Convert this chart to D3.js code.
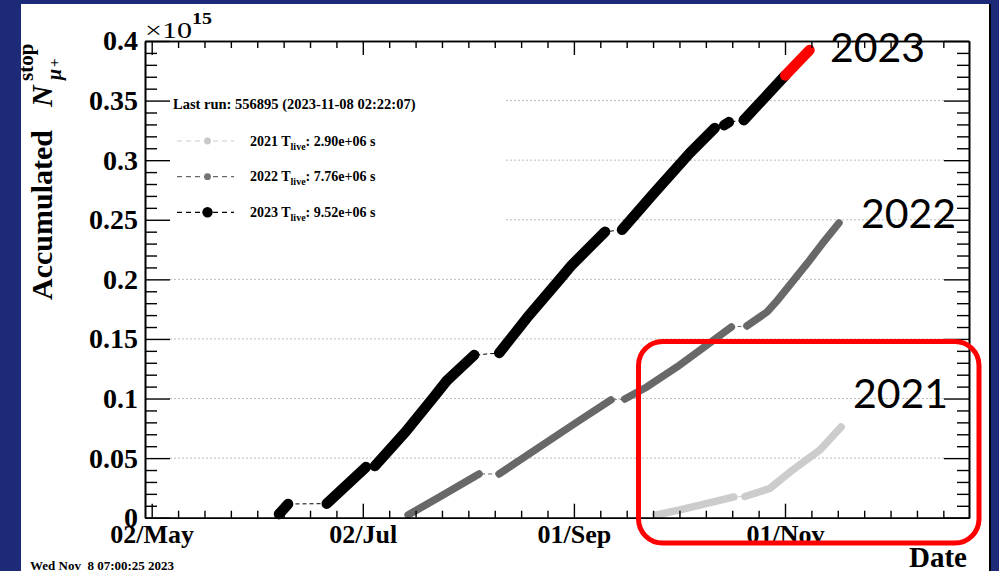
<!DOCTYPE html>
<html><head><meta charset="utf-8">
<script src="https://cdn.jsdelivr.net/npm/d3@7"></script>
<style>
html,body{margin:0;padding:0;background:#1d2a78;}
svg{display:block;}
text{white-space:pre;}
</style></head><body>
<svg id="chart" width="999" height="571"></svg>
<script>
// ---------- data ----------
const xDomain = ["2023-04-30 01:32", "2023-12-24 04:00"];
const xTickDates = ["2023-05-02 00:00", "2023-07-02 00:00", "2023-09-01 00:00", "2023-11-01 00:00"];
const xTickLabels = ["02/May", "02/Jul", "01/Sep", "01/Nov"];
const xMinorPerMajor = 8;
const yTickValues = [0, 0.05, 0.1, 0.15, 0.2, 0.25, 0.3, 0.35, 0.4];
const yTickLabels = ["0", "0.05", "0.1", "0.15", "0.2", "0.25", "0.3", "0.35", "0.4"];
const yMinorStep = 0.01;
const seriesYears = ["2021", "2022", "2023"];
const liveTimes = ["2.90e+06", "7.76e+06", "9.52e+06"];
const lastRunText = "Last run: 556895 (2023-11-08 02:22:07)";
const printDate = "Wed Nov  8 07:00:25 2023";

// runs of data taking: [date "MM-DD HH" on a common calendar, accumulated N (x1e15)]
const runs2021 = [
  [["09-24 17", 0.0023], ["10-01 14", 0.0065], ["10-08 07", 0.0111], ["10-17 05", 0.0174]],
  [["10-20 10", 0.0178], ["10-27 14", 0.0245], ["11-02 10", 0.0383], ["11-11 02", 0.0568], ["11-17 05", 0.0761]]
];
const runs2022 = [
  [["07-15 02", 0.0023], ["07-24 07", 0.0176], ["08-04 14", 0.0367]],
  [["08-10 10", 0.0367], ["09-01 22", 0.0803], ["09-11 17", 0.0988]],
  [["09-15 17", 0.0996], ["09-22 02", 0.1097], ["09-30 19", 0.1265], ["10-07 12", 0.1407], ["10-16 12", 0.1600]],
  [["10-21 00", 0.1609], ["10-26 19", 0.1726], ["10-29 22", 0.1827], ["11-07 07", 0.2129], ["11-11 17", 0.2297], ["11-16 14", 0.2473]]
];
const runs2023 = [
  [["06-07 19", 0.0030], ["06-10 10", 0.0115]],
  [["06-21 14", 0.0118], ["07-02 22", 0.0425]],
  [["07-05 12", 0.0434], ["07-14 12", 0.0725], ["07-22 07", 0.1005], ["07-26 07", 0.1150], ["08-03 05", 0.1365]],
  [["08-10 10", 0.1382], ["08-18 10", 0.1676], ["08-28 00", 0.2003], ["08-31 10", 0.2121], ["09-10 00", 0.2399]],
  [["09-14 22", 0.2416], ["09-23 22", 0.2716], ["10-04 12", 0.3060], ["10-11 17", 0.3270]],
  [["10-14 10", 0.3294], ["10-15 19", 0.3320]],
  [["10-20 02", 0.3336], ["11-01 02", 0.3711]]
];
const recent2023 = [["11-01 02", 0.3711], ["11-08 02", 0.3924]];

// ---------- layout ----------
const W = 999, H = 571;
const L = 145, R = 969, T = 41, B = 517.7;
const colors = {"2021": "#cccccc", "2022": "#686868", "2023": "#000000"};
const widths = {"2021": 7.5, "2022": 7.5, "2023": 10.5};
const serif = "Liberation Serif, Times New Roman, serif";

const parseFull = d3.utcParse("%Y-%m-%d %H:%M");
const parseRun = s => d3.utcParse("%Y-%m-%d %H")("2023-" + s);

const svg = d3.select("#chart");
svg.append("rect").attr("width", W).attr("height", H).attr("fill", "#1d2a78");
svg.append("rect").attr("x", 21).attr("y", 4).attr("width", 968).attr("height", H - 4).attr("fill", "#ffffff");
svg.append("rect").attr("x", 989).attr("y", 4).attr("width", 2).attr("height", H - 4).attr("fill", "#000");

const x = d3.scaleUtc().domain(xDomain.map(parseFull)).range([L, R]);
const y = d3.scaleLinear().domain([0, 0.4]).range([B, T]);

// grid
svg.append("g").selectAll("line").data(yTickValues.filter(v => v > 0 && v < 0.4)).join("line")
  .attr("x1", 170).attr("x2", 944).attr("y1", d => y(d)).attr("y2", d => y(d))
  .attr("stroke", "#bdbdbd").attr("stroke-width", 1).attr("stroke-dasharray", "2,2");

// legend background
svg.append("rect").attr("x", 160).attr("y", 86).attr("width", 345).attr("height", 146).attr("fill", "#fff");

// data
const line = d3.line().x(d => x(parseRun(d[0]))).y(d => y(d[1]));
const allRuns = {"2021": runs2021, "2022": runs2022, "2023": runs2023};
seriesYears.forEach(yr => {
  const runs = allRuns[yr];
  svg.append("path").datum(runs.flat()).attr("d", line).attr("fill", "none")
    .attr("stroke", colors[yr]).attr("stroke-width", 1).attr("stroke-dasharray", "4,3");
  svg.append("g").selectAll("path").data(runs).join("path").attr("d", line)
    .attr("fill", "none").attr("stroke", colors[yr]).attr("stroke-width", widths[yr])
    .attr("stroke-linecap", "round").attr("stroke-linejoin", "round");
});
svg.append("path").datum(recent2023).attr("d", line).attr("fill", "none")
  .attr("stroke", "#ff0000").attr("stroke-width", widths["2023"])
  .attr("stroke-linecap", "round").attr("stroke-linejoin", "round");

// ticks
const majorDates = xTickDates.map(parseFull);
const minorStepMs = (majorDates[1] - majorDates[0]) / xMinorPerMajor;
const minorDates = [];
for (let k = 0; ; k++) {
  const t = new Date(+majorDates[0] + k * minorStepMs);
  if (t > x.domain()[1]) break;
  if (k % xMinorPerMajor !== 0) minorDates.push(t);
}
const yMinor = d3.range(0, 0.4 + 1e-9, yMinorStep).filter(v => Math.abs(v / 0.05 - Math.round(v / 0.05)) > 1e-6);

function styleAxis(g) {
  g.select(".domain").attr("stroke", "#000").attr("stroke-width", 1.6);
  g.selectAll(".tick line").attr("stroke", "#000").attr("stroke-width", 1.4);
}
// bottom
svg.append("g").attr("transform", `translate(0,${B})`)
  .call(d3.axisBottom(x).tickValues(minorDates).tickSize(-7).tickSizeOuter(0).tickFormat(""))
  .call(styleAxis);
svg.append("g").attr("transform", `translate(0,${B})`)
  .call(d3.axisBottom(x).tickValues(majorDates).tickSize(-14).tickSizeOuter(0).tickPadding(7)
    .tickFormat((d, i) => xTickLabels[i]))
  .call(styleAxis)
  .call(g => g.selectAll("text").attr("font-family", serif).attr("font-weight", "bold")
    .attr("font-size", 26).attr("fill", "#000"));
// top
svg.append("g").attr("transform", `translate(0,${T})`)
  .call(d3.axisTop(x).tickValues(minorDates).tickSize(-7).tickSizeOuter(0).tickFormat(""))
  .call(styleAxis);
svg.append("g").attr("transform", `translate(0,${T})`)
  .call(d3.axisTop(x).tickValues(majorDates).tickSize(-14).tickSizeOuter(0).tickFormat(""))
  .call(styleAxis);
// left
svg.append("g").attr("transform", `translate(${L},0)`)
  .call(d3.axisLeft(y).tickValues(yMinor).tickSize(-12).tickSizeOuter(0).tickFormat(""))
  .call(styleAxis);
svg.append("g").attr("transform", `translate(${L},0)`)
  .call(d3.axisLeft(y).tickValues(yTickValues).tickSize(-25).tickSizeOuter(0).tickPadding(7)
    .tickFormat((d, i) => yTickLabels[i]))
  .call(styleAxis)
  .call(g => g.selectAll("text").attr("font-family", serif).attr("font-weight", "bold")
    .attr("font-size", 28).attr("fill", "#000"));
// right
svg.append("g").attr("transform", `translate(${R},0)`)
  .call(d3.axisRight(y).tickValues(yMinor).tickSize(-12).tickSizeOuter(0).tickFormat(""))
  .call(styleAxis);
svg.append("g").attr("transform", `translate(${R},0)`)
  .call(d3.axisRight(y).tickValues(yTickValues).tickSize(-25).tickSizeOuter(0).tickFormat(""))
  .call(styleAxis);

// exponent
svg.append("text").attr("x", 145).attr("y", 37.5).attr("font-family", serif).attr("fill", "#000")
  .attr("font-size", 24).attr("textLength", 47).attr("lengthAdjust", "spacingAndGlyphs").text("×10");
svg.append("text").attr("x", 192).attr("y", 23.5).attr("font-family", serif).attr("fill", "#000")
  .attr("font-size", 16).attr("font-weight", "bold").attr("textLength", 20)
  .attr("lengthAdjust", "spacingAndGlyphs").text("15");

// y title
const yt = svg.append("text").attr("transform", "translate(52,300) rotate(-90)")
  .attr("font-family", serif).attr("font-weight", "bold").attr("font-size", 30).attr("fill", "#000");
yt.append("tspan").attr("x", 0).attr("y", 0).text("Accumulated");
yt.append("tspan").attr("x", 193).attr("y", 0).attr("font-style", "italic").text("N");
yt.append("tspan").attr("x", 219).attr("y", -19).attr("font-size", 21).text("stop");
yt.append("tspan").attr("x", 220).attr("y", 9).attr("font-size", 20).attr("font-style", "italic").text("μ");
yt.append("tspan").attr("x", 233).attr("y", 7).attr("font-size", 15).text("+");

// x title
svg.append("text").attr("x", 967).attr("y", 567).attr("text-anchor", "end")
  .attr("font-family", serif).attr("font-weight", "bold").attr("font-size", 29).text("Date");

// print date
svg.append("text").attr("x", 30).attr("y", 569.5).attr("font-family", serif).attr("font-weight", "bold")
  .attr("font-size", 13).text(printDate);

// legend
svg.append("text").attr("x", 173).attr("y", 108.5).attr("font-family", serif).attr("font-weight", "bold")
  .attr("font-size", 14.5).text(lastRunText);
const legRows = [141, 176.7, 212.3];
const markerR = {"2021": 3.4, "2022": 3.4, "2023": 5.2};
const markerC = {"2021": "#c8c8c8", "2022": "#747474", "2023": "#000"};
seriesYears.forEach((yr, i) => {
  const cy = legRows[i];
  svg.append("line").attr("x1", 177).attr("x2", 234).attr("y1", cy).attr("y2", cy)
    .attr("stroke", colors[yr]).attr("stroke-width", 1.2).attr("stroke-dasharray", "5,4");
  svg.append("circle").attr("cx", 207.5).attr("cy", cy).attr("r", markerR[yr]).attr("fill", markerC[yr]);
  const t = svg.append("text").attr("x", 250).attr("y", cy + 4.5).attr("font-family", serif)
    .attr("font-weight", "bold").attr("font-size", 14).attr("fill", "#000");
  t.append("tspan").text(yr + " T");
  t.append("tspan").attr("dy", 4).attr("font-size", 10).text("live");
  t.append("tspan").attr("dy", -4).text(": " + liveTimes[i] + " s");
});

// annotations
svg.append("rect").attr("x", 638.5).attr("y", 341.5).attr("width", 340.5).attr("height", 201.5)
  .attr("rx", 24).attr("ry", 24).attr("fill", "none").attr("stroke", "#ff0000").attr("stroke-width", 5);
const annPos = {"2023": [830, 61.7], "2022": [861, 228.3], "2021": [853, 408.3]};
seriesYears.forEach(yr => {
  svg.append("text").attr("x", annPos[yr][0]).attr("y", annPos[yr][1])
    .attr("font-family", "Lato, Open Sans, sans-serif").attr("font-size", 41).attr("fill", "#000").text(yr);
});
</script>
</body></html>
